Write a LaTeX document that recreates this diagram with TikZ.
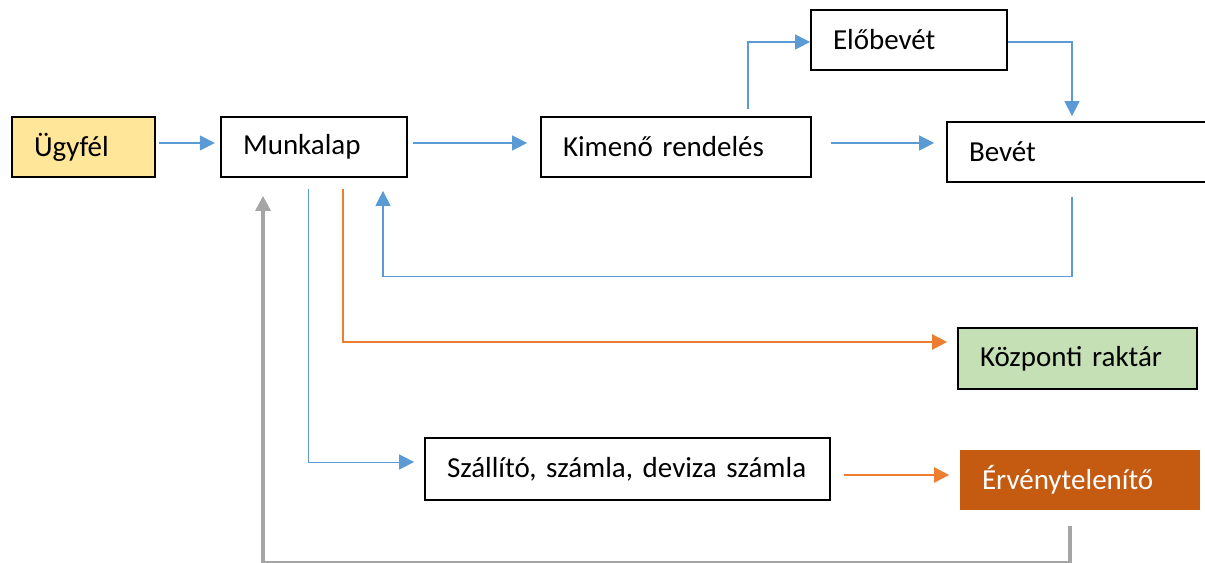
\documentclass[tikz,border=0pt]{standalone}
\usepackage{fontspec}
\setmainfont{Carlito}
\usepackage{tikz}
\usetikzlibrary{calc,arrows.meta}
\definecolor{flowblue}{HTML}{5B9BD5}
\definecolor{floworange}{HTML}{ED7D31}
\definecolor{flowgray}{HTML}{A5A5A5}
\definecolor{clientyellow}{HTML}{FFE699}
\definecolor{storegreen}{HTML}{C5E0B4}
\definecolor{cancelred}{HTML}{C55A11}
\tikzset{
    box/.style={
    rectangle,draw=black,line width=1pt,minimum height=1.2cm,align=left,inner xsep=0.44cm,
    font=\fontsize{16.5}{20}\selectfont
    },
    line/.style={draw=flowblue, line width=0.7pt, -{Triangle[length=0.3cm,width=0.3cm]}},
    oline/.style={draw=floworange, line width=1.3pt, -{Triangle[length=0.3cm,width=0.3cm]}},
    gline/.style={draw=flowgray, line width=1.8pt, -{Triangle[length=0.3cm,width=0.3cm]}},
}
\begin{document}
\begin{tikzpicture}[x=0.02cm,y=-0.02cm]
\useasboundingbox (0,0) rectangle (1205,563);
\clip (0,0) rectangle (1205,563);

  \node[box,fill=clientyellow,text width=1.98cm] (ugyfel) at (83.5,147) {Ügyfél};
  \node[box,text width=2.84cm] (munkalap) at (314,147) {Munkalap};
  \node[box,text width=4.52cm] (kimeno) at (676,147) {Kimenő rendelés};
  \node[box,text width=3.04cm] (elobevet) at (909,40) {Előbevét};
  \node[box,text width=4.32cm] (bevet) at (1077,152) {Bevét};
  \node[box,fill=storegreen,text width=3.90cm,minimum height=1.22cm] (kozponti) at (1077.5,358.5) {Központi raktár};
  \node[box,text width=7.22cm,minimum height=1.24cm] (szallito) at (627.5,469) {Szállító, számla, deviza számla};
  \node[box,draw=none,fill=cancelred,text=white,text width=3.92cm,inner xsep=0.36cm,minimum width=4.8cm] (erveny) at (1080,480) {Érvénytelenítő};

  % blue flow
  \path[line,shorten <=2pt,shorten >=3pt] ([yshift=0.08cm]ugyfel.east) -- ([yshift=0.08cm]munkalap.west);
  \path[line,shorten <=3pt,shorten >=0.26cm] ([yshift=0.08cm]munkalap.east) -- ([yshift=0.08cm]kimeno.west);
  \path[line,shorten <=0.38cm,shorten >=0.24cm] ([yshift=0.08cm]kimeno.east) -- ([yshift=0.08cm]kimeno.east -| bevet.west);
  \path[line,shorten <=0.14cm] ([xshift=1.44cm]kimeno.north) |- ([yshift=-0.04cm]elobevet.west);
  \path[line,shorten >=0.1cm] ([yshift=-0.04cm]elobevet.east) -| ([xshift=-0.1cm]bevet.north);
  \path[line,shorten <=0.28cm,shorten >=0.26cm] ([xshift=-0.1cm]bevet.south) -- ++(0,94) -| ([xshift=1.38cm]munkalap.south);
  \path[line,line width=0.5pt,shorten <=0.22cm,shorten >=0.2cm] ([xshift=-0.12cm]munkalap.south) |- ([yshift=0.14cm]szallito.west);

  % orange flow
  \path[oline,shorten <=0.22cm,shorten >=0.2cm] ([xshift=0.58cm]munkalap.south) |- ([yshift=0.33cm]kozponti.west);
  \path[oline,shorten <=0.26cm,shorten >=0.2cm] ([yshift=-0.12cm]szallito.east) -- ([yshift=-0.12cm]szallito.east -| erveny.west);

  % gray return
  \path[gline,shorten <=0.3cm,shorten >=0.36cm] ([xshift=-0.2cm]erveny.south) -- ++(0,52) -| ([xshift=-1.02cm]munkalap.south);
\end{tikzpicture}
\end{document}
